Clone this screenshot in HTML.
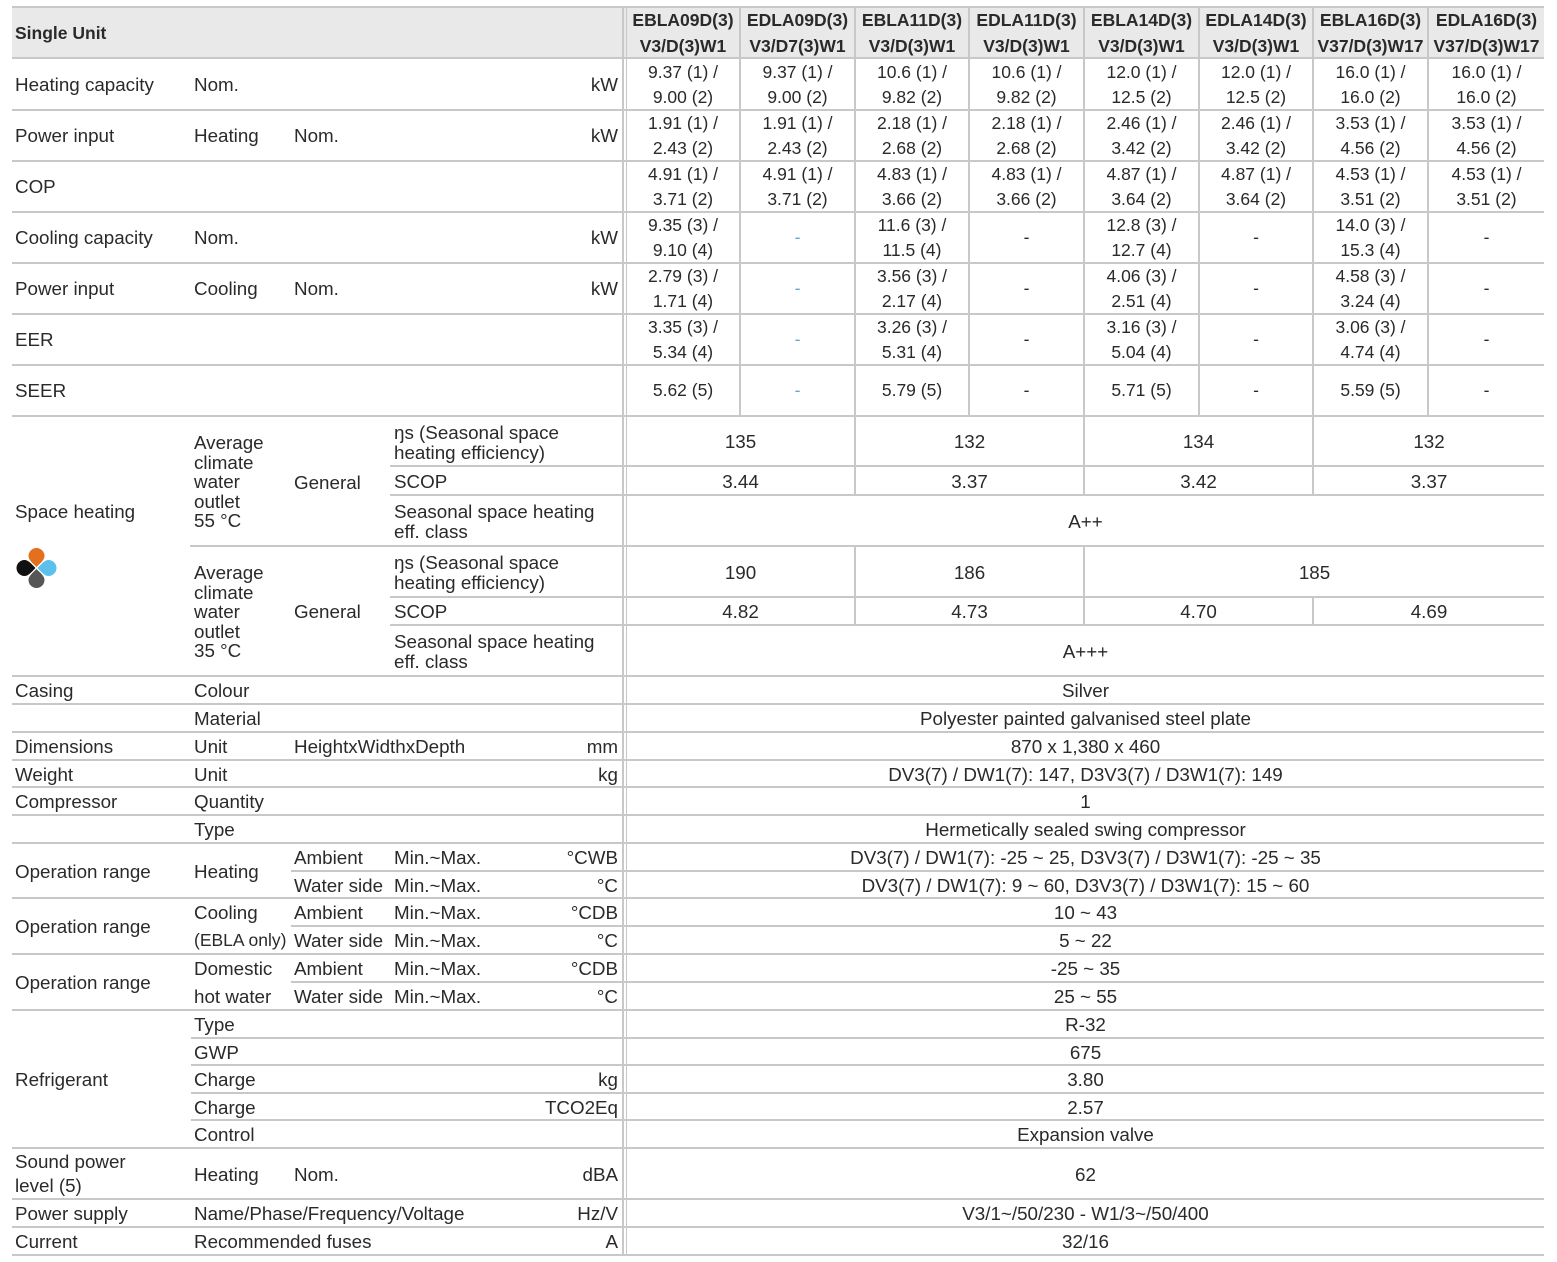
<!DOCTYPE html>
<html><head><meta charset="utf-8"><style>
body{margin:0;width:1557px;height:1262px;background:#fff;position:relative;overflow:hidden;font-family:"Liberation Sans",sans-serif;color:#2a2a2a;font-size:18.8px}
.h{position:absolute;height:2px;background:#c8c8c8}
.v{position:absolute;width:2px;background:#c8c8c8}
.c,.l,.r{position:absolute;display:flex;align-items:center;line-height:25px;white-space:nowrap}
.c{justify-content:center;text-align:center}
.r{justify-content:flex-end}
.b{font-weight:bold;font-size:17.5px;line-height:26px}
.m{line-height:19.5px;white-space:normal}
.bl{color:#5aa9d6}
.n{font-size:17.5px}
</style></head><body>
<div style="position:absolute;left:12px;top:7px;width:1532px;height:51px;background:#e9e9e9"></div>
<div class="h" style="top:6px;left:12px;width:1532px"></div>
<div class="h" style="top:57px;left:12px;width:1532px"></div>
<div class="h" style="top:109px;left:12px;width:1532px"></div>
<div class="h" style="top:160px;left:12px;width:1532px"></div>
<div class="h" style="top:211px;left:12px;width:1532px"></div>
<div class="h" style="top:262px;left:12px;width:1532px"></div>
<div class="h" style="top:313px;left:12px;width:1532px"></div>
<div class="h" style="top:364px;left:12px;width:1532px"></div>
<div class="h" style="top:415px;left:12px;width:1532px"></div>
<div class="h" style="top:465px;left:390px;width:1154px"></div>
<div class="h" style="top:494px;left:390px;width:1154px"></div>
<div class="h" style="top:545px;left:190px;width:1354px"></div>
<div class="h" style="top:596px;left:390px;width:1154px"></div>
<div class="h" style="top:624px;left:390px;width:1154px"></div>
<div class="h" style="top:675px;left:12px;width:1532px"></div>
<div class="h" style="top:703px;left:12px;width:1532px"></div>
<div class="h" style="top:731px;left:12px;width:1532px"></div>
<div class="h" style="top:759px;left:12px;width:1532px"></div>
<div class="h" style="top:786px;left:12px;width:1532px"></div>
<div class="h" style="top:814px;left:12px;width:1532px"></div>
<div class="h" style="top:842px;left:12px;width:1532px"></div>
<div class="h" style="top:870px;left:291px;width:1253px"></div>
<div class="h" style="top:897px;left:12px;width:1532px"></div>
<div class="h" style="top:925px;left:291px;width:1253px"></div>
<div class="h" style="top:953px;left:12px;width:1532px"></div>
<div class="h" style="top:981px;left:291px;width:1253px"></div>
<div class="h" style="top:1009px;left:12px;width:1532px"></div>
<div class="h" style="top:1037px;left:191px;width:1353px"></div>
<div class="h" style="top:1064px;left:191px;width:1353px"></div>
<div class="h" style="top:1092px;left:191px;width:1353px"></div>
<div class="h" style="top:1119px;left:191px;width:1353px"></div>
<div class="h" style="top:1147px;left:12px;width:1532px"></div>
<div class="h" style="top:1198px;left:12px;width:1532px"></div>
<div class="h" style="top:1226px;left:12px;width:1532px"></div>
<div class="h" style="top:1254px;left:12px;width:1532px"></div>
<div class="v" style="left:622px;top:7px;height:1249px;width:1.5px"></div>
<div class="v" style="left:625.5px;top:7px;height:1249px;width:1.5px"></div>
<div class="v" style="left:739px;top:7px;height:409px"></div>
<div class="v" style="left:854px;top:7px;height:409px"></div>
<div class="v" style="left:968px;top:7px;height:409px"></div>
<div class="v" style="left:1083px;top:7px;height:409px"></div>
<div class="v" style="left:1198px;top:7px;height:409px"></div>
<div class="v" style="left:1312px;top:7px;height:409px"></div>
<div class="v" style="left:1427px;top:7px;height:409px"></div>
<div class="v" style="left:854px;top:416px;height:79px"></div>
<div class="v" style="left:1083px;top:416px;height:79px"></div>
<div class="v" style="left:1312px;top:416px;height:79px"></div>
<div class="v" style="left:854px;top:546px;height:79px"></div>
<div class="v" style="left:1083px;top:546px;height:79px"></div>
<div class="v" style="left:1312px;top:597px;height:28px"></div>

<div class="l b" style="left:15px;top:7px;height:51px">Single Unit</div>
<div class="c b" style="left:627px;width:112px;top:7px;height:51px">EBLA09D(3)<br>V3/D(3)W1</div>
<div class="c b" style="left:741px;width:113px;top:7px;height:51px">EDLA09D(3)<br>V3/D7(3)W1</div>
<div class="c b" style="left:856px;width:112px;top:7px;height:51px">EBLA11D(3)<br>V3/D(3)W1</div>
<div class="c b" style="left:970px;width:113px;top:7px;height:51px">EDLA11D(3)<br>V3/D(3)W1</div>
<div class="c b" style="left:1085px;width:113px;top:7px;height:51px">EBLA14D(3)<br>V3/D(3)W1</div>
<div class="c b" style="left:1200px;width:112px;top:7px;height:51px">EDLA14D(3)<br>V3/D(3)W1</div>
<div class="c b" style="left:1314px;width:113px;top:7px;height:51px">EBLA16D(3)<br>V37/D(3)W17</div>
<div class="c b" style="left:1429px;width:115px;top:7px;height:51px">EDLA16D(3)<br>V37/D(3)W17</div>

<div class="l" style="left:15px;top:59px;height:51px">Heating capacity</div>
<div class="l" style="left:194px;top:59px;height:51px">Nom.</div>
<div class="r" style="right:939px;top:59px;height:51px">kW</div>
<div class="l" style="left:15px;top:110px;height:51px">Power input</div>
<div class="l" style="left:194px;top:110px;height:51px">Heating</div>
<div class="l" style="left:294px;top:110px;height:51px">Nom.</div>
<div class="r" style="right:939px;top:110px;height:51px">kW</div>
<div class="l" style="left:15px;top:161px;height:51px">COP</div>
<div class="l" style="left:15px;top:212px;height:51px">Cooling capacity</div>
<div class="l" style="left:194px;top:212px;height:51px">Nom.</div>
<div class="r" style="right:939px;top:212px;height:51px">kW</div>
<div class="l" style="left:15px;top:263px;height:51px">Power input</div>
<div class="l" style="left:194px;top:263px;height:51px">Cooling</div>
<div class="l" style="left:294px;top:263px;height:51px">Nom.</div>
<div class="r" style="right:939px;top:263px;height:51px">kW</div>
<div class="l" style="left:15px;top:314px;height:51px">EER</div>
<div class="l" style="left:15px;top:365px;height:51px">SEER</div>

<div class="c n" style="left:627px;width:112px;top:59px;height:51px">9.37 (1) /<br>9.00 (2)</div>
<div class="c n" style="left:741px;width:113px;top:59px;height:51px">9.37 (1) /<br>9.00 (2)</div>
<div class="c n" style="left:856px;width:112px;top:59px;height:51px">10.6 (1) /<br>9.82 (2)</div>
<div class="c n" style="left:970px;width:113px;top:59px;height:51px">10.6 (1) /<br>9.82 (2)</div>
<div class="c n" style="left:1085px;width:113px;top:59px;height:51px">12.0 (1) /<br>12.5 (2)</div>
<div class="c n" style="left:1200px;width:112px;top:59px;height:51px">12.0 (1) /<br>12.5 (2)</div>
<div class="c n" style="left:1314px;width:113px;top:59px;height:51px">16.0 (1) /<br>16.0 (2)</div>
<div class="c n" style="left:1429px;width:115px;top:59px;height:51px">16.0 (1) /<br>16.0 (2)</div>

<div class="c n" style="left:627px;width:112px;top:110px;height:51px">1.91 (1) /<br>2.43 (2)</div>
<div class="c n" style="left:741px;width:113px;top:110px;height:51px">1.91 (1) /<br>2.43 (2)</div>
<div class="c n" style="left:856px;width:112px;top:110px;height:51px">2.18 (1) /<br>2.68 (2)</div>
<div class="c n" style="left:970px;width:113px;top:110px;height:51px">2.18 (1) /<br>2.68 (2)</div>
<div class="c n" style="left:1085px;width:113px;top:110px;height:51px">2.46 (1) /<br>3.42 (2)</div>
<div class="c n" style="left:1200px;width:112px;top:110px;height:51px">2.46 (1) /<br>3.42 (2)</div>
<div class="c n" style="left:1314px;width:113px;top:110px;height:51px">3.53 (1) /<br>4.56 (2)</div>
<div class="c n" style="left:1429px;width:115px;top:110px;height:51px">3.53 (1) /<br>4.56 (2)</div>

<div class="c n" style="left:627px;width:112px;top:161px;height:51px">4.91 (1) /<br>3.71 (2)</div>
<div class="c n" style="left:741px;width:113px;top:161px;height:51px">4.91 (1) /<br>3.71 (2)</div>
<div class="c n" style="left:856px;width:112px;top:161px;height:51px">4.83 (1) /<br>3.66 (2)</div>
<div class="c n" style="left:970px;width:113px;top:161px;height:51px">4.83 (1) /<br>3.66 (2)</div>
<div class="c n" style="left:1085px;width:113px;top:161px;height:51px">4.87 (1) /<br>3.64 (2)</div>
<div class="c n" style="left:1200px;width:112px;top:161px;height:51px">4.87 (1) /<br>3.64 (2)</div>
<div class="c n" style="left:1314px;width:113px;top:161px;height:51px">4.53 (1) /<br>3.51 (2)</div>
<div class="c n" style="left:1429px;width:115px;top:161px;height:51px">4.53 (1) /<br>3.51 (2)</div>

<div class="c n" style="left:627px;width:112px;top:212px;height:51px">9.35 (3) /<br>9.10 (4)</div>
<div class="c n bl" style="left:741px;width:113px;top:212px;height:51px">-</div>
<div class="c n" style="left:856px;width:112px;top:212px;height:51px">11.6 (3) /<br>11.5 (4)</div>
<div class="c n" style="left:970px;width:113px;top:212px;height:51px">-</div>
<div class="c n" style="left:1085px;width:113px;top:212px;height:51px">12.8 (3) /<br>12.7 (4)</div>
<div class="c n" style="left:1200px;width:112px;top:212px;height:51px">-</div>
<div class="c n" style="left:1314px;width:113px;top:212px;height:51px">14.0 (3) /<br>15.3 (4)</div>
<div class="c n" style="left:1429px;width:115px;top:212px;height:51px">-</div>

<div class="c n" style="left:627px;width:112px;top:263px;height:51px">2.79 (3) /<br>1.71 (4)</div>
<div class="c n bl" style="left:741px;width:113px;top:263px;height:51px">-</div>
<div class="c n" style="left:856px;width:112px;top:263px;height:51px">3.56 (3) /<br>2.17 (4)</div>
<div class="c n" style="left:970px;width:113px;top:263px;height:51px">-</div>
<div class="c n" style="left:1085px;width:113px;top:263px;height:51px">4.06 (3) /<br>2.51 (4)</div>
<div class="c n" style="left:1200px;width:112px;top:263px;height:51px">-</div>
<div class="c n" style="left:1314px;width:113px;top:263px;height:51px">4.58 (3) /<br>3.24 (4)</div>
<div class="c n" style="left:1429px;width:115px;top:263px;height:51px">-</div>

<div class="c n" style="left:627px;width:112px;top:314px;height:51px">3.35 (3) /<br>5.34 (4)</div>
<div class="c n bl" style="left:741px;width:113px;top:314px;height:51px">-</div>
<div class="c n" style="left:856px;width:112px;top:314px;height:51px">3.26 (3) /<br>5.31 (4)</div>
<div class="c n" style="left:970px;width:113px;top:314px;height:51px">-</div>
<div class="c n" style="left:1085px;width:113px;top:314px;height:51px">3.16 (3) /<br>5.04 (4)</div>
<div class="c n" style="left:1200px;width:112px;top:314px;height:51px">-</div>
<div class="c n" style="left:1314px;width:113px;top:314px;height:51px">3.06 (3) /<br>4.74 (4)</div>
<div class="c n" style="left:1429px;width:115px;top:314px;height:51px">-</div>

<div class="c n" style="left:627px;width:112px;top:365px;height:51px">5.62 (5)</div>
<div class="c n bl" style="left:741px;width:113px;top:365px;height:51px">-</div>
<div class="c n" style="left:856px;width:112px;top:365px;height:51px">5.79 (5)</div>
<div class="c n" style="left:970px;width:113px;top:365px;height:51px">-</div>
<div class="c n" style="left:1085px;width:113px;top:365px;height:51px">5.71 (5)</div>
<div class="c n" style="left:1200px;width:112px;top:365px;height:51px">-</div>
<div class="c n" style="left:1314px;width:113px;top:365px;height:51px">5.59 (5)</div>
<div class="c n" style="left:1429px;width:115px;top:365px;height:51px">-</div>

<div class="l" style="left:15px;top:499px;height:25px">Space heating</div>
<svg style="position:absolute;left:10px;top:543px" width="52" height="52" viewBox="-26 -26 52 52">
<g transform="translate(0.5,-1)">
<path d="M0,-1 C-4,-5 -8,-8 -8,-12 A8,8 0 1,1 8,-12 C8,-8 4,-5 0,-1Z" fill="#e2701f"/>
<path transform="rotate(90)" d="M0,-1 C-4,-5 -8,-8 -8,-12 A8,8 0 1,1 8,-12 C8,-8 4,-5 0,-1Z" fill="#5cc0ec"/>
<path transform="rotate(180)" d="M0,-1 C-4,-5 -8,-8 -8,-12 A8,8 0 1,1 8,-12 C8,-8 4,-5 0,-1Z" fill="#565656"/>
<path transform="rotate(270)" d="M0,-1 C-4,-5 -8,-8 -8,-12 A8,8 0 1,1 8,-12 C8,-8 4,-5 0,-1Z" fill="#111"/>
</g></svg>
<div class="l m" style="left:194px;top:433px;width:80px;display:block">Average<br>climate<br>water<br>outlet<br>55 °C</div>
<div class="l" style="left:294px;top:470px;height:25px">General</div>
<div class="l m" style="left:394px;top:423px;display:block">ŋs (Seasonal space<br>heating efficiency)</div>
<div class="l" style="left:394px;top:467px;height:28px">SCOP</div>
<div class="l m" style="left:394px;top:502px;display:block">Seasonal space heating<br>eff. class</div>
<div class="l m" style="left:194px;top:563px;width:80px;display:block">Average<br>climate<br>water<br>outlet<br>35 °C</div>
<div class="l" style="left:294px;top:599px;height:25px">General</div>
<div class="l m" style="left:394px;top:553px;display:block">ŋs (Seasonal space<br>heating efficiency)</div>
<div class="l" style="left:394px;top:597px;height:28px">SCOP</div>
<div class="l m" style="left:394px;top:632px;display:block">Seasonal space heating<br>eff. class</div>

<div class="c" style="left:627px;width:227px;top:417px;height:49px">135</div>
<div class="c" style="left:856px;width:227px;top:417px;height:49px">132</div>
<div class="c" style="left:1085px;width:227px;top:417px;height:49px">134</div>
<div class="c" style="left:1314px;width:230px;top:417px;height:49px">132</div>
<div class="c" style="left:627px;width:227px;top:467px;height:28px">3.44</div>
<div class="c" style="left:856px;width:227px;top:467px;height:28px">3.37</div>
<div class="c" style="left:1085px;width:227px;top:467px;height:28px">3.42</div>
<div class="c" style="left:1314px;width:230px;top:467px;height:28px">3.37</div>
<div class="c" style="left:627px;width:917px;top:496px;height:50px">A++</div>
<div class="c" style="left:627px;width:227px;top:547px;height:50px">190</div>
<div class="c" style="left:856px;width:227px;top:547px;height:50px">186</div>
<div class="c" style="left:1085px;width:459px;top:547px;height:50px">185</div>
<div class="c" style="left:627px;width:227px;top:598px;height:27px">4.82</div>
<div class="c" style="left:856px;width:227px;top:598px;height:27px">4.73</div>
<div class="c" style="left:1085px;width:227px;top:598px;height:27px">4.70</div>
<div class="c" style="left:1314px;width:230px;top:598px;height:27px">4.69</div>
<div class="c" style="left:627px;width:917px;top:626px;height:50px">A+++</div>

<div class="l" style="left:15px;top:677px;height:27px">Casing</div>
<div class="l" style="left:194px;top:677px;height:27px">Colour</div>
<div class="l" style="left:194px;top:705px;height:27px">Material</div>
<div class="l" style="left:15px;top:733px;height:27px">Dimensions</div>
<div class="l" style="left:194px;top:733px;height:27px">Unit</div>
<div class="l" style="left:294px;top:733px;height:27px">HeightxWidthxDepth</div>
<div class="r" style="right:939px;top:733px;height:27px">mm</div>
<div class="l" style="left:15px;top:761px;height:26px">Weight</div>
<div class="l" style="left:194px;top:761px;height:26px">Unit</div>
<div class="r" style="right:939px;top:761px;height:26px">kg</div>
<div class="l" style="left:15px;top:788px;height:27px">Compressor</div>
<div class="l" style="left:194px;top:788px;height:27px">Quantity</div>
<div class="l" style="left:194px;top:816px;height:27px">Type</div>

<div class="l" style="left:15px;top:844px;height:54px">Operation range</div>
<div class="l" style="left:194px;top:844px;height:54px">Heating</div>
<div class="l" style="left:294px;top:844px;height:27px">Ambient</div>
<div class="l" style="left:394px;top:844px;height:27px">Min.~Max.</div>
<div class="r" style="right:939px;top:844px;height:27px">°CWB</div>
<div class="l" style="left:294px;top:872px;height:26px">Water side</div>
<div class="l" style="left:394px;top:872px;height:26px">Min.~Max.</div>
<div class="r" style="right:939px;top:872px;height:26px">°C</div>

<div class="l" style="left:15px;top:899px;height:55px">Operation range</div>
<div class="l" style="left:194px;top:899px;height:27px">Cooling</div>
<div class="l" style="left:194px;top:927px;height:27px;font-size:17.5px">(EBLA only)</div>
<div class="l" style="left:294px;top:899px;height:27px">Ambient</div>
<div class="l" style="left:394px;top:899px;height:27px">Min.~Max.</div>
<div class="r" style="right:939px;top:899px;height:27px">°CDB</div>
<div class="l" style="left:294px;top:927px;height:27px">Water side</div>
<div class="l" style="left:394px;top:927px;height:27px">Min.~Max.</div>
<div class="r" style="right:939px;top:927px;height:27px">°C</div>

<div class="l" style="left:15px;top:955px;height:55px">Operation range</div>
<div class="l" style="left:194px;top:955px;height:27px">Domestic</div>
<div class="l" style="left:194px;top:983px;height:27px">hot water</div>
<div class="l" style="left:294px;top:955px;height:27px">Ambient</div>
<div class="l" style="left:394px;top:955px;height:27px">Min.~Max.</div>
<div class="r" style="right:939px;top:955px;height:27px">°CDB</div>
<div class="l" style="left:294px;top:983px;height:27px">Water side</div>
<div class="l" style="left:394px;top:983px;height:27px">Min.~Max.</div>
<div class="r" style="right:939px;top:983px;height:27px">°C</div>

<div class="l" style="left:15px;top:1011px;height:137px">Refrigerant</div>
<div class="l" style="left:194px;top:1011px;height:27px">Type</div>
<div class="l" style="left:194px;top:1039px;height:26px">GWP</div>
<div class="l" style="left:194px;top:1066px;height:27px">Charge</div>
<div class="r" style="right:939px;top:1066px;height:27px">kg</div>
<div class="l" style="left:194px;top:1094px;height:26px">Charge</div>
<div class="r" style="right:939px;top:1094px;height:26px">TCO2Eq</div>
<div class="l" style="left:194px;top:1121px;height:27px">Control</div>

<div class="l" style="left:15px;top:1149px;height:50px;line-height:24px">Sound power<br>level (5)</div>
<div class="l" style="left:194px;top:1149px;height:50px">Heating</div>
<div class="l" style="left:294px;top:1149px;height:50px">Nom.</div>
<div class="r" style="right:939px;top:1149px;height:50px">dBA</div>
<div class="l" style="left:15px;top:1200px;height:27px">Power supply</div>
<div class="l" style="left:194px;top:1200px;height:27px">Name/Phase/Frequency/Voltage</div>
<div class="r" style="right:939px;top:1200px;height:27px">Hz/V</div>
<div class="l" style="left:15px;top:1228px;height:27px">Current</div>
<div class="l" style="left:194px;top:1228px;height:27px">Recommended fuses</div>
<div class="r" style="right:939px;top:1228px;height:27px">A</div>

<div class="c" style="left:627px;width:917px;top:677px;height:27px">Silver</div>
<div class="c" style="left:627px;width:917px;top:705px;height:27px">Polyester painted galvanised steel plate</div>
<div class="c" style="left:627px;width:917px;top:733px;height:27px">870 x 1,380 x 460</div>
<div class="c" style="left:627px;width:917px;top:761px;height:26px">DV3(7) / DW1(7): 147, D3V3(7) / D3W1(7): 149</div>
<div class="c" style="left:627px;width:917px;top:788px;height:27px">1</div>
<div class="c" style="left:627px;width:917px;top:816px;height:27px">Hermetically sealed swing compressor</div>
<div class="c" style="left:627px;width:917px;top:844px;height:27px">DV3(7) / DW1(7): -25 ~ 25, D3V3(7) / D3W1(7): -25 ~ 35</div>
<div class="c" style="left:627px;width:917px;top:872px;height:26px">DV3(7) / DW1(7): 9 ~ 60, D3V3(7) / D3W1(7): 15 ~ 60</div>
<div class="c" style="left:627px;width:917px;top:899px;height:27px">10 ~ 43</div>
<div class="c" style="left:627px;width:917px;top:927px;height:27px">5 ~ 22</div>
<div class="c" style="left:627px;width:917px;top:955px;height:27px">-25 ~ 35</div>
<div class="c" style="left:627px;width:917px;top:983px;height:27px">25 ~ 55</div>
<div class="c" style="left:627px;width:917px;top:1011px;height:27px">R-32</div>
<div class="c" style="left:627px;width:917px;top:1039px;height:26px">675</div>
<div class="c" style="left:627px;width:917px;top:1066px;height:27px">3.80</div>
<div class="c" style="left:627px;width:917px;top:1094px;height:26px">2.57</div>
<div class="c" style="left:627px;width:917px;top:1121px;height:27px">Expansion valve</div>
<div class="c" style="left:627px;width:917px;top:1149px;height:50px">62</div>
<div class="c" style="left:627px;width:917px;top:1200px;height:27px">V3/1~/50/230 - W1/3~/50/400</div>
<div class="c" style="left:627px;width:917px;top:1228px;height:27px">32/16</div>
</body></html>
